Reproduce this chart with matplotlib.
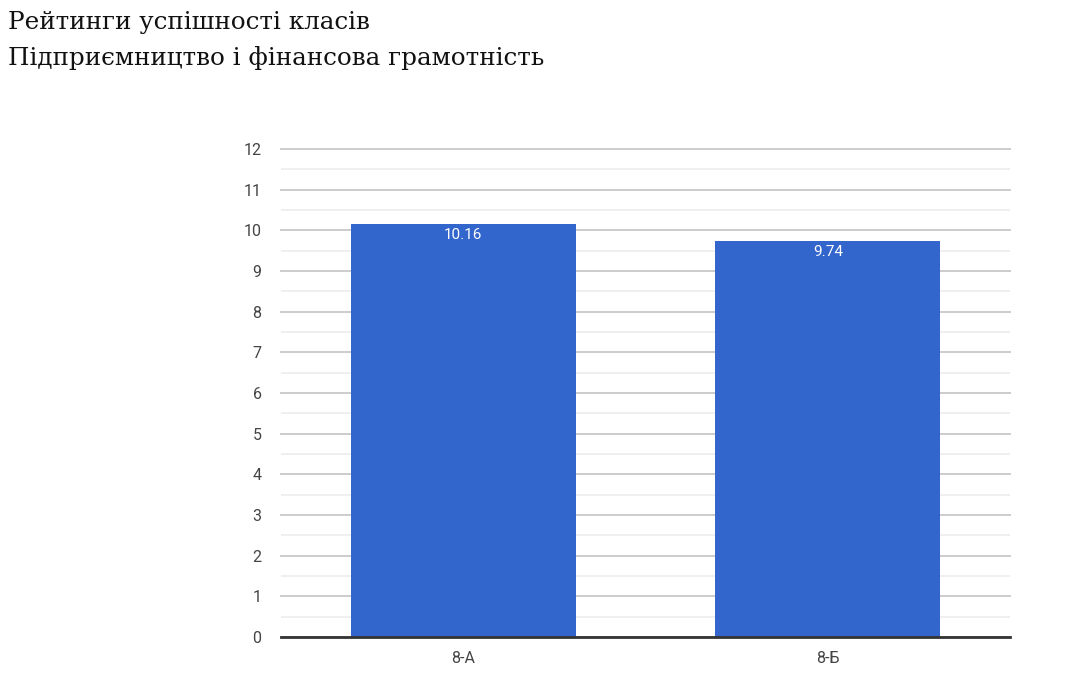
import matplotlib
matplotlib.use("Agg")
import matplotlib.pyplot as plt
from matplotlib.ticker import MultipleLocator

categories = ["8-А", "8-Б"]
values = [10.16, 9.74]
labels = ["10.16", "9.74"]
title_lines = ["Рейтинги успішності класів", "Підприємництво і фінансова грамотність"]

fig = plt.figure(figsize=(10.66, 6.82), dpi=100)
ax = fig.add_axes([281/1066, 1-637/682, 729/1066, 488/682])

x = list(range(len(categories)))
bars = ax.bar(x, values, width=0.617, color="#3366cc", zorder=3)
for xi, v, lab in zip(x, values, labels):
    ax.annotate(lab, (xi, v), xytext=(0, -3), textcoords="offset points",
                ha="center", va="top", color="white", fontsize=11, family="Roboto", zorder=4)

ax.set_xlim(-0.5, 1.5)
ax.set_ylim(0, 12)
ax.yaxis.set_major_locator(MultipleLocator(1))
ax.yaxis.set_minor_locator(MultipleLocator(0.5))
ax.grid(axis="y", which="major", color="#cccccc", linewidth=1.4, zorder=0)
ax.grid(axis="y", which="minor", color="#ebebeb", linewidth=1.1, zorder=0)
for gl in ax.get_ygridlines(which="both") if False else ax.yaxis.get_gridlines():
    gl.set_clip_on(False)
ax.axhline(0, color="#333333", linewidth=2, zorder=5, clip_on=False)
for s in ax.spines.values():
    s.set_visible(False)
ax.set_xticks(x)
ax.set_xticklabels(categories)
ax.tick_params(axis="both", which="both", length=0, labelsize=11.5, labelcolor="#444444")
ax.tick_params(axis="y", pad=14)
ax.tick_params(axis="x", pad=10)
for t in ax.get_xticklabels() + ax.get_yticklabels():
    t.set_family("Roboto")

fig.text(8/1066, 1-22/682, title_lines[0], fontsize=17.7, family="DejaVu Serif", va="center", ha="left", color="#111111")
fig.text(8/1066, 1-58/682, title_lines[1], fontsize=17.7, family="DejaVu Serif", va="center", ha="left", color="#111111")

fig.savefig("out.png", dpi=100, facecolor="white")
